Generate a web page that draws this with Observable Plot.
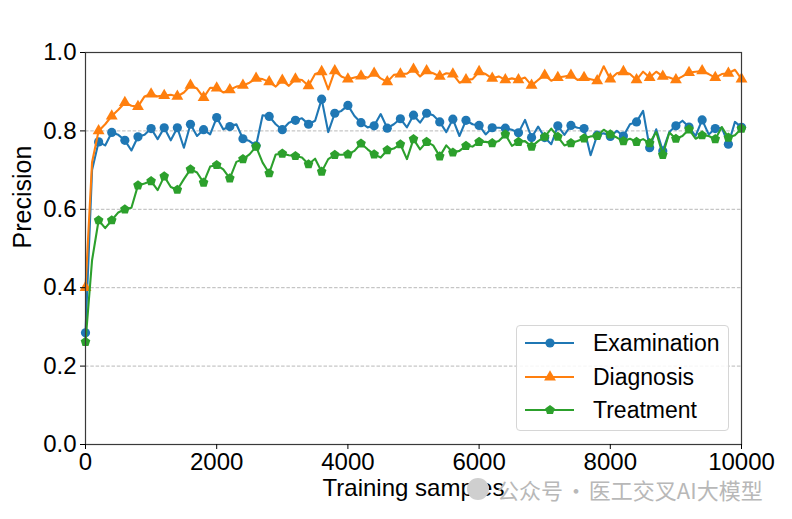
<!DOCTYPE html>
<html>
<head>
<meta charset="utf-8">
<script src="https://cdn.jsdelivr.net/npm/d3@7"></script>
<script src="https://cdn.jsdelivr.net/npm/@observablehq/plot@0.6"></script>
<style>
  html, body { margin: 0; padding: 0; background: white; }
  #wrap { position: relative; width: 792px; height: 519px; overflow: hidden; font-family: "Liberation Sans", Arial, sans-serif; }
  #legend { position: absolute; left: 516px; top: 325px; width: 213px; height: 106px; box-sizing: border-box;
            border: 1px solid #d6d6d6; border-radius: 4px; background: rgba(255,255,255,0.85); }
  #wm { position: absolute; left: 467px; top: 475px; height: 28px; display: flex; align-items: center;
        font-family: "Noto Sans CJK SC", sans-serif; font-size: 22px; color: #b8b8b8; white-space: nowrap; word-spacing: -3px; }
  #wm .icon { width: 22px; height: 22px; border-radius: 50%; background: #cfcfcf; margin-right: 8px; }
</style>
</head>
<body>
<div id="wrap"></div>
<script>
// ---- data ----
const step = 100;
const samples = d3.range(0, 10001, step);
const examination = [
  0.285, 0.70, 0.772, 0.763, 0.796, 0.79, 0.776, 0.75, 0.785, 0.79, 0.806, 0.779, 0.808, 0.776, 0.808, 0.757, 0.817,
  0.787, 0.803, 0.791, 0.834, 0.804, 0.811, 0.817, 0.78, 0.774, 0.762, 0.84, 0.837, 0.817, 0.803, 0.821, 0.827, 0.832,
  0.817, 0.826, 0.881, 0.797, 0.845, 0.851, 0.865, 0.838, 0.821, 0.809, 0.813, 0.843, 0.807, 0.817, 0.831, 0.809,
  0.84, 0.821, 0.845, 0.84, 0.823, 0.797, 0.83, 0.787, 0.827, 0.817, 0.814, 0.791, 0.808, 0.808, 0.807, 0.803, 0.795,
  0.828, 0.783, 0.811, 0.783, 0.766, 0.813, 0.79, 0.814, 0.808, 0.806, 0.738, 0.789, 0.794, 0.786, 0.80, 0.787,
  0.817, 0.823, 0.851, 0.757, 0.804, 0.749, 0.797, 0.813, 0.826, 0.81, 0.787, 0.828, 0.791, 0.806, 0.808, 0.766, 0.823, 0.809
];
const diagnosis = [
  0.40, 0.72, 0.80, 0.817, 0.838, 0.854, 0.872, 0.864, 0.862, 0.888, 0.894, 0.888, 0.89, 0.892, 0.888, 0.898, 0.916,
  0.908, 0.885, 0.91, 0.909, 0.898, 0.905, 0.913, 0.916, 0.923, 0.934, 0.932, 0.925, 0.913, 0.929, 0.915, 0.932, 0.93,
  0.915, 0.945, 0.951, 0.906, 0.953, 0.939, 0.932, 0.936, 0.94, 0.936, 0.947, 0.934, 0.925, 0.943, 0.945, 0.946,
  0.957, 0.939, 0.953, 0.947, 0.939, 0.947, 0.945, 0.923, 0.93, 0.932, 0.951, 0.945, 0.934, 0.939, 0.93, 0.934, 0.93,
  0.936, 0.916, 0.93, 0.942, 0.928, 0.936, 0.939, 0.942, 0.93, 0.936, 0.932, 0.928, 0.965, 0.932, 0.947, 0.951,
  0.945, 0.93, 0.951, 0.936, 0.951, 0.939, 0.936, 0.93, 0.939, 0.949, 0.951, 0.953, 0.945, 0.936, 0.945, 0.947, 0.956, 0.932
];
const treatment = [
  0.262, 0.47, 0.572, 0.552, 0.572, 0.592, 0.60, 0.604, 0.661, 0.666, 0.672, 0.649, 0.684, 0.657, 0.65, 0.677, 0.702,
  0.694, 0.668, 0.709, 0.713, 0.702, 0.679, 0.721, 0.728, 0.74, 0.76, 0.719, 0.692, 0.74, 0.742, 0.738, 0.736, 0.732,
  0.715, 0.729, 0.696, 0.728, 0.739, 0.739, 0.74, 0.749, 0.768, 0.753, 0.74, 0.732, 0.751, 0.755, 0.766, 0.728,
  0.779, 0.753, 0.772, 0.763, 0.735, 0.763, 0.745, 0.749, 0.762, 0.76, 0.772, 0.772, 0.769, 0.774, 0.791, 0.762, 0.772,
  0.774, 0.76, 0.774, 0.785, 0.806, 0.785, 0.763, 0.769, 0.774, 0.781, 0.786, 0.787, 0.803, 0.791, 0.783, 0.774,
  0.78, 0.772, 0.779, 0.769, 0.797, 0.739, 0.796, 0.78, 0.787, 0.804, 0.78, 0.789, 0.787, 0.779, 0.81, 0.783, 0.789, 0.806
];
const seriesNames = ["Examination", "Diagnosis", "Treatment"];
const seriesValues = [examination, diagnosis, treatment];
const colors = ["#1f77b4", "#ff7f0e", "#2ca02c"];
const xTicks = [0, 2000, 4000, 6000, 8000, 10000];
const yTicks = [0.0, 0.2, 0.4, 0.6, 0.8, 1.0];
const xLabel = "Training samples";
const yLabel = "Precision";
const watermark = "公众号 · 医工交叉AI大模型";

// pentagon symbol
const pentagon = {
  draw(ctx, size) {
    const R = Math.sqrt(size / 2.378);
    for (let i = 0; i < 5; i++) {
      const a = -Math.PI / 2 + i * 2 * Math.PI / 5;
      const x = R * Math.cos(a), y = R * Math.sin(a);
      if (i === 0) ctx.moveTo(x, y); else ctx.lineTo(x, y);
    }
    ctx.closePath();
  }
};
const symbols = ["circle", "triangle", pentagon];
const radii = [4.6, 4.4, 4.4];

const tables = seriesValues.map((vals, s) => samples.map((x, i) => ({x, y: vals[i], i, s})));

const marks = [
  Plot.gridY(yTicks, {stroke: "#b0b0b0", strokeOpacity: 1, strokeDasharray: "3.5,1.8", strokeWidth: 0.9}),
];
tables.forEach((t, s) => {
  marks.push(Plot.line(t, {x: "x", y: "y", stroke: colors[s], strokeWidth: 2.1}));
  marks.push(Plot.dot(t.filter(d => d.i % 2 === 0), {x: "x", y: "y", fill: colors[s], r: radii[s], symbol: () => symbols[s]}));
});
marks.push(
  Plot.frame({stroke: "#3a3a3a", strokeWidth: 1.2}),
  Plot.axisX(xTicks, {tickSize: 5, tickPadding: 3, fontSize: 24, tickFormat: d => String(d), label: null, stroke: "black"}),
  Plot.axisY(yTicks, {tickSize: 5, tickPadding: 4, fontSize: 24, tickFormat: d => d.toFixed(1), label: null, stroke: "black"}),
  Plot.text([yLabel], {frameAnchor: "left", dx: -63, rotate: -90, fontSize: 25, fill: "black"}),
  Plot.text([xLabel], {frameAnchor: "bottom", dy: 51, fontSize: 24, fill: "black"})
);

const chart = Plot.plot({
  width: 792, height: 519,
  marginLeft: 85, marginRight: 51, marginTop: 52, marginBottom: 75,
  style: {fontFamily: "'Liberation Sans', Arial, sans-serif", background: "white", color: "black", overflow: "visible"},
  x: {domain: [0, 10000]},
  y: {domain: [0, 1]},
  marks
});
const wrap = document.getElementById("wrap");
wrap.appendChild(chart);

// legend
const leg = document.createElement("div");
leg.id = "legend";
wrap.appendChild(leg);
const lsvg = d3.select(leg).append("svg").attr("width", 211).attr("height", 104).style("position", "absolute").style("left", 0).style("top", 0);
const rowY = [17, 51, 84];
seriesNames.forEach((name, s) => {
  const g = lsvg.append("g").attr("transform", `translate(0,${rowY[s]})`);
  g.append("line").attr("x1", 8).attr("x2", 57).attr("y1", 0).attr("y2", 0).attr("stroke", colors[s]).attr("stroke-width", 2.1);
  const sym = typeof symbols[s] === "string" ? (symbols[s] === "circle" ? d3.symbolCircle : d3.symbolTriangle) : symbols[s];
  g.append("path").attr("transform", "translate(33,0)")
    .attr("d", d3.symbol(sym, radii[s] * radii[s] * Math.PI)())
    .attr("fill", colors[s]);
  g.append("text").attr("x", 76).attr("y", 0).attr("dy", "0.35em")
    .attr("font-size", 23).attr("font-family", "'Liberation Sans', Arial, sans-serif").attr("fill", "black").text(name);
});

// watermark
const wm = document.createElement("div");
wm.id = "wm";
wm.innerHTML = '<div class="icon"></div>';
const span = document.createElement("span");
span.textContent = watermark;
wm.appendChild(span);
wrap.appendChild(wm);
</script>
</body>
</html>
